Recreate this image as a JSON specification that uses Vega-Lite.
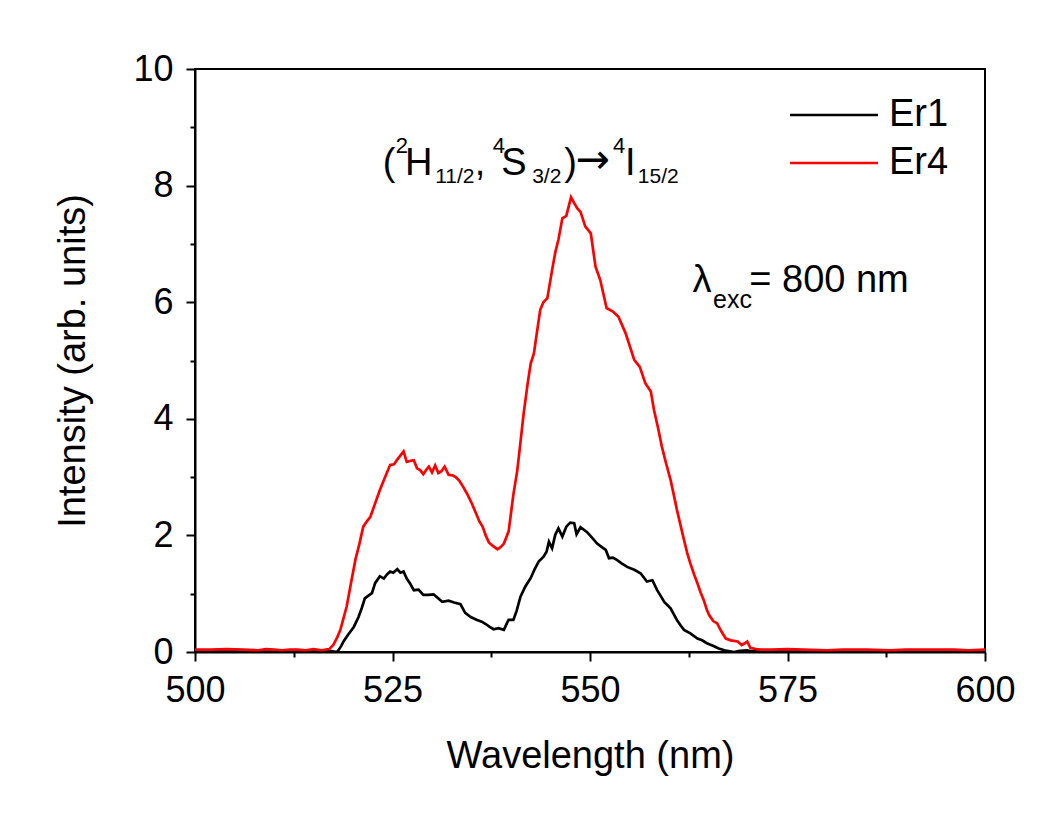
{
  "$schema": "https://vega.github.io/schema/vega-lite/v6.json",
  "width": 790,
  "height": 583,
  "autosize": "none",
  "padding": {"left": 195, "top": 69, "right": 75, "bottom": 168},
  "background": "white",
  "config": {
    "view": {"stroke": "black", "strokeWidth": 2},
    "font": "Liberation Sans",
    "axis": {
      "grid": false,
      "domainColor": "black",
      "domainWidth": 2,
      "tickColor": "black",
      "tickWidth": 2,
      "labelFont": "Liberation Sans",
      "labelFontSize": 36,
      "labelColor": "black",
      "titleFont": "Liberation Sans",
      "titleFontSize": 38,
      "titleFontWeight": "normal",
      "titleColor": "black"
    },
    "legend": {
      "labelFont": "Liberation Sans",
      "labelFontSize": 38,
      "labelColor": "black"
    },
    "text": {"font": "Liberation Sans", "color": "black"}
  },
  "datasets": {
    "spectra": [
      {"wavelength": 500, "intensity": 0.02, "sample": "Er1"},
      {"wavelength": 503, "intensity": 0.01, "sample": "Er1"},
      {"wavelength": 506, "intensity": 0.02, "sample": "Er1"},
      {"wavelength": 509, "intensity": 0.02, "sample": "Er1"},
      {"wavelength": 512, "intensity": 0.02, "sample": "Er1"},
      {"wavelength": 514, "intensity": 0.01, "sample": "Er1"},
      {"wavelength": 516, "intensity": 0.01, "sample": "Er1"},
      {"wavelength": 517, "intensity": 0.02, "sample": "Er1"},
      {"wavelength": 518, "intensity": 0.0, "sample": "Er1"},
      {"wavelength": 518.5, "intensity": 0.1, "sample": "Er1"},
      {"wavelength": 518.8, "intensity": 0.18, "sample": "Er1"},
      {"wavelength": 519.4, "intensity": 0.3, "sample": "Er1"},
      {"wavelength": 520.1, "intensity": 0.43, "sample": "Er1"},
      {"wavelength": 520.7, "intensity": 0.6, "sample": "Er1"},
      {"wavelength": 521.1, "intensity": 0.75, "sample": "Er1"},
      {"wavelength": 521.5, "intensity": 0.92, "sample": "Er1"},
      {"wavelength": 522.0, "intensity": 0.97, "sample": "Er1"},
      {"wavelength": 522.4, "intensity": 1.01, "sample": "Er1"},
      {"wavelength": 522.8, "intensity": 1.18, "sample": "Er1"},
      {"wavelength": 523.4, "intensity": 1.3, "sample": "Er1"},
      {"wavelength": 523.9, "intensity": 1.26, "sample": "Er1"},
      {"wavelength": 524.3, "intensity": 1.33, "sample": "Er1"},
      {"wavelength": 524.7, "intensity": 1.38, "sample": "Er1"},
      {"wavelength": 525.1, "intensity": 1.36, "sample": "Er1"},
      {"wavelength": 525.6, "intensity": 1.42, "sample": "Er1"},
      {"wavelength": 526.0, "intensity": 1.36, "sample": "Er1"},
      {"wavelength": 526.4, "intensity": 1.38, "sample": "Er1"},
      {"wavelength": 526.8, "intensity": 1.26, "sample": "Er1"},
      {"wavelength": 527.2, "intensity": 1.18, "sample": "Er1"},
      {"wavelength": 527.7, "intensity": 1.06, "sample": "Er1"},
      {"wavelength": 528.3, "intensity": 1.07, "sample": "Er1"},
      {"wavelength": 528.9, "intensity": 0.98, "sample": "Er1"},
      {"wavelength": 529.5, "intensity": 0.98, "sample": "Er1"},
      {"wavelength": 530.2, "intensity": 0.99, "sample": "Er1"},
      {"wavelength": 530.7, "intensity": 0.93, "sample": "Er1"},
      {"wavelength": 531.3, "intensity": 0.86, "sample": "Er1"},
      {"wavelength": 532.1, "intensity": 0.88, "sample": "Er1"},
      {"wavelength": 532.8, "intensity": 0.85, "sample": "Er1"},
      {"wavelength": 533.6, "intensity": 0.82, "sample": "Er1"},
      {"wavelength": 534.2, "intensity": 0.67, "sample": "Er1"},
      {"wavelength": 534.9, "intensity": 0.6, "sample": "Er1"},
      {"wavelength": 535.7, "intensity": 0.55, "sample": "Er1"},
      {"wavelength": 536.3, "intensity": 0.52, "sample": "Er1"},
      {"wavelength": 536.8, "intensity": 0.48, "sample": "Er1"},
      {"wavelength": 537.3, "intensity": 0.43, "sample": "Er1"},
      {"wavelength": 537.8, "intensity": 0.39, "sample": "Er1"},
      {"wavelength": 538.4, "intensity": 0.41, "sample": "Er1"},
      {"wavelength": 539.1, "intensity": 0.38, "sample": "Er1"},
      {"wavelength": 539.5, "intensity": 0.5, "sample": "Er1"},
      {"wavelength": 539.7, "intensity": 0.55, "sample": "Er1"},
      {"wavelength": 540.3, "intensity": 0.55, "sample": "Er1"},
      {"wavelength": 540.7, "intensity": 0.7, "sample": "Er1"},
      {"wavelength": 541.2, "intensity": 0.95, "sample": "Er1"},
      {"wavelength": 541.8, "intensity": 1.12, "sample": "Er1"},
      {"wavelength": 542.5, "intensity": 1.27, "sample": "Er1"},
      {"wavelength": 543.0, "intensity": 1.42, "sample": "Er1"},
      {"wavelength": 543.5, "intensity": 1.55, "sample": "Er1"},
      {"wavelength": 544.1, "intensity": 1.63, "sample": "Er1"},
      {"wavelength": 544.5, "intensity": 1.72, "sample": "Er1"},
      {"wavelength": 544.8, "intensity": 1.89, "sample": "Er1"},
      {"wavelength": 545.2, "intensity": 1.78, "sample": "Er1"},
      {"wavelength": 545.6, "intensity": 2.01, "sample": "Er1"},
      {"wavelength": 546.0, "intensity": 2.12, "sample": "Er1"},
      {"wavelength": 546.5, "intensity": 1.98, "sample": "Er1"},
      {"wavelength": 547.0, "intensity": 2.15, "sample": "Er1"},
      {"wavelength": 547.5, "intensity": 2.22, "sample": "Er1"},
      {"wavelength": 548.0, "intensity": 2.21, "sample": "Er1"},
      {"wavelength": 548.3, "intensity": 2.02, "sample": "Er1"},
      {"wavelength": 548.8, "intensity": 2.14, "sample": "Er1"},
      {"wavelength": 549.6, "intensity": 2.06, "sample": "Er1"},
      {"wavelength": 550.2, "intensity": 1.97, "sample": "Er1"},
      {"wavelength": 550.9, "intensity": 1.86, "sample": "Er1"},
      {"wavelength": 551.5, "intensity": 1.8, "sample": "Er1"},
      {"wavelength": 552.0, "intensity": 1.75, "sample": "Er1"},
      {"wavelength": 552.4, "intensity": 1.61, "sample": "Er1"},
      {"wavelength": 552.9, "intensity": 1.62, "sample": "Er1"},
      {"wavelength": 553.4, "intensity": 1.58, "sample": "Er1"},
      {"wavelength": 554.0, "intensity": 1.52, "sample": "Er1"},
      {"wavelength": 554.7, "intensity": 1.46, "sample": "Er1"},
      {"wavelength": 555.6, "intensity": 1.41, "sample": "Er1"},
      {"wavelength": 556.4, "intensity": 1.35, "sample": "Er1"},
      {"wavelength": 557.2, "intensity": 1.21, "sample": "Er1"},
      {"wavelength": 557.9, "intensity": 1.23, "sample": "Er1"},
      {"wavelength": 558.5, "intensity": 1.06, "sample": "Er1"},
      {"wavelength": 559.0, "intensity": 0.95, "sample": "Er1"},
      {"wavelength": 559.4, "intensity": 0.86, "sample": "Er1"},
      {"wavelength": 560.2, "intensity": 0.75, "sample": "Er1"},
      {"wavelength": 560.6, "intensity": 0.65, "sample": "Er1"},
      {"wavelength": 561.0, "intensity": 0.55, "sample": "Er1"},
      {"wavelength": 561.5, "intensity": 0.45, "sample": "Er1"},
      {"wavelength": 561.9, "intensity": 0.38, "sample": "Er1"},
      {"wavelength": 562.7, "intensity": 0.32, "sample": "Er1"},
      {"wavelength": 563.6, "intensity": 0.23, "sample": "Er1"},
      {"wavelength": 564.2, "intensity": 0.2, "sample": "Er1"},
      {"wavelength": 564.8, "intensity": 0.15, "sample": "Er1"},
      {"wavelength": 565.7, "intensity": 0.1, "sample": "Er1"},
      {"wavelength": 566.3, "intensity": 0.06, "sample": "Er1"},
      {"wavelength": 567.0, "intensity": 0.03, "sample": "Er1"},
      {"wavelength": 568.2, "intensity": 0.0, "sample": "Er1"},
      {"wavelength": 569.0, "intensity": 0.02, "sample": "Er1"},
      {"wavelength": 569.9, "intensity": 0.03, "sample": "Er1"},
      {"wavelength": 570.5, "intensity": 0.01, "sample": "Er1"},
      {"wavelength": 572, "intensity": 0.01, "sample": "Er1"},
      {"wavelength": 575, "intensity": 0.02, "sample": "Er1"},
      {"wavelength": 578, "intensity": 0.01, "sample": "Er1"},
      {"wavelength": 581, "intensity": 0.02, "sample": "Er1"},
      {"wavelength": 584, "intensity": 0.01, "sample": "Er1"},
      {"wavelength": 587, "intensity": 0.02, "sample": "Er1"},
      {"wavelength": 590, "intensity": 0.01, "sample": "Er1"},
      {"wavelength": 593, "intensity": 0.02, "sample": "Er1"},
      {"wavelength": 596, "intensity": 0.01, "sample": "Er1"},
      {"wavelength": 600, "intensity": 0.01, "sample": "Er1"},
      {"wavelength": 500, "intensity": 0.04, "sample": "Er4"},
      {"wavelength": 502, "intensity": 0.04, "sample": "Er4"},
      {"wavelength": 504, "intensity": 0.05, "sample": "Er4"},
      {"wavelength": 506, "intensity": 0.04, "sample": "Er4"},
      {"wavelength": 508, "intensity": 0.03, "sample": "Er4"},
      {"wavelength": 509, "intensity": 0.05, "sample": "Er4"},
      {"wavelength": 510, "intensity": 0.04, "sample": "Er4"},
      {"wavelength": 511, "intensity": 0.03, "sample": "Er4"},
      {"wavelength": 512, "intensity": 0.04, "sample": "Er4"},
      {"wavelength": 513, "intensity": 0.04, "sample": "Er4"},
      {"wavelength": 514, "intensity": 0.03, "sample": "Er4"},
      {"wavelength": 515, "intensity": 0.05, "sample": "Er4"},
      {"wavelength": 516, "intensity": 0.03, "sample": "Er4"},
      {"wavelength": 517, "intensity": 0.05, "sample": "Er4"},
      {"wavelength": 517.5, "intensity": 0.12, "sample": "Er4"},
      {"wavelength": 518.0, "intensity": 0.25, "sample": "Er4"},
      {"wavelength": 518.4, "intensity": 0.38, "sample": "Er4"},
      {"wavelength": 518.8, "intensity": 0.58, "sample": "Er4"},
      {"wavelength": 519.2, "intensity": 0.78, "sample": "Er4"},
      {"wavelength": 519.7, "intensity": 1.15, "sample": "Er4"},
      {"wavelength": 520.3, "intensity": 1.58, "sample": "Er4"},
      {"wavelength": 520.8, "intensity": 1.85, "sample": "Er4"},
      {"wavelength": 521.3, "intensity": 2.15, "sample": "Er4"},
      {"wavelength": 521.8, "intensity": 2.25, "sample": "Er4"},
      {"wavelength": 522.2, "intensity": 2.32, "sample": "Er4"},
      {"wavelength": 522.8, "intensity": 2.55, "sample": "Er4"},
      {"wavelength": 523.4, "intensity": 2.78, "sample": "Er4"},
      {"wavelength": 524.0, "intensity": 2.98, "sample": "Er4"},
      {"wavelength": 524.7, "intensity": 3.21, "sample": "Er4"},
      {"wavelength": 525.2, "intensity": 3.22, "sample": "Er4"},
      {"wavelength": 525.6, "intensity": 3.3, "sample": "Er4"},
      {"wavelength": 526.4, "intensity": 3.44, "sample": "Er4"},
      {"wavelength": 526.8, "intensity": 3.26, "sample": "Er4"},
      {"wavelength": 527.3, "intensity": 3.28, "sample": "Er4"},
      {"wavelength": 527.7, "intensity": 3.29, "sample": "Er4"},
      {"wavelength": 528.1, "intensity": 3.15, "sample": "Er4"},
      {"wavelength": 528.5, "intensity": 3.12, "sample": "Er4"},
      {"wavelength": 528.9, "intensity": 3.05, "sample": "Er4"},
      {"wavelength": 529.3, "intensity": 3.13, "sample": "Er4"},
      {"wavelength": 529.6, "intensity": 3.18, "sample": "Er4"},
      {"wavelength": 530.0, "intensity": 3.08, "sample": "Er4"},
      {"wavelength": 530.4, "intensity": 3.2, "sample": "Er4"},
      {"wavelength": 530.8, "intensity": 3.07, "sample": "Er4"},
      {"wavelength": 531.2, "intensity": 3.1, "sample": "Er4"},
      {"wavelength": 531.6, "intensity": 3.18, "sample": "Er4"},
      {"wavelength": 532.1, "intensity": 3.04, "sample": "Er4"},
      {"wavelength": 532.6, "intensity": 3.03, "sample": "Er4"},
      {"wavelength": 533.0, "intensity": 3.0, "sample": "Er4"},
      {"wavelength": 533.5, "intensity": 2.93, "sample": "Er4"},
      {"wavelength": 534.0, "intensity": 2.82, "sample": "Er4"},
      {"wavelength": 534.5, "intensity": 2.7, "sample": "Er4"},
      {"wavelength": 535.0, "intensity": 2.56, "sample": "Er4"},
      {"wavelength": 535.5, "intensity": 2.4, "sample": "Er4"},
      {"wavelength": 536.0, "intensity": 2.24, "sample": "Er4"},
      {"wavelength": 536.4, "intensity": 2.15, "sample": "Er4"},
      {"wavelength": 536.8, "intensity": 2.0, "sample": "Er4"},
      {"wavelength": 537.2, "intensity": 1.88, "sample": "Er4"},
      {"wavelength": 537.7, "intensity": 1.82, "sample": "Er4"},
      {"wavelength": 538.3, "intensity": 1.76, "sample": "Er4"},
      {"wavelength": 538.7, "intensity": 1.8, "sample": "Er4"},
      {"wavelength": 539.1, "intensity": 1.86, "sample": "Er4"},
      {"wavelength": 539.7, "intensity": 2.07, "sample": "Er4"},
      {"wavelength": 540.3, "intensity": 2.7, "sample": "Er4"},
      {"wavelength": 540.8, "intensity": 3.12, "sample": "Er4"},
      {"wavelength": 541.2, "intensity": 3.6, "sample": "Er4"},
      {"wavelength": 541.6, "intensity": 4.09, "sample": "Er4"},
      {"wavelength": 542.1, "intensity": 4.6, "sample": "Er4"},
      {"wavelength": 542.5, "intensity": 4.95, "sample": "Er4"},
      {"wavelength": 542.9, "intensity": 5.12, "sample": "Er4"},
      {"wavelength": 543.3, "intensity": 5.5, "sample": "Er4"},
      {"wavelength": 543.7, "intensity": 5.87, "sample": "Er4"},
      {"wavelength": 544.1, "intensity": 6.0, "sample": "Er4"},
      {"wavelength": 544.6, "intensity": 6.07, "sample": "Er4"},
      {"wavelength": 545.2, "intensity": 6.55, "sample": "Er4"},
      {"wavelength": 545.6, "intensity": 6.85, "sample": "Er4"},
      {"wavelength": 546.0, "intensity": 7.07, "sample": "Er4"},
      {"wavelength": 546.5, "intensity": 7.44, "sample": "Er4"},
      {"wavelength": 547.0, "intensity": 7.48, "sample": "Er4"},
      {"wavelength": 547.6, "intensity": 7.8, "sample": "Er4"},
      {"wavelength": 548.0, "intensity": 7.7, "sample": "Er4"},
      {"wavelength": 548.4, "intensity": 7.61, "sample": "Er4"},
      {"wavelength": 548.8, "intensity": 7.55, "sample": "Er4"},
      {"wavelength": 549.4, "intensity": 7.3, "sample": "Er4"},
      {"wavelength": 550.1, "intensity": 7.18, "sample": "Er4"},
      {"wavelength": 550.7, "intensity": 6.61, "sample": "Er4"},
      {"wavelength": 551.3, "intensity": 6.38, "sample": "Er4"},
      {"wavelength": 552.1, "intensity": 5.9, "sample": "Er4"},
      {"wavelength": 552.9, "intensity": 5.84, "sample": "Er4"},
      {"wavelength": 553.6, "intensity": 5.75, "sample": "Er4"},
      {"wavelength": 554.5, "intensity": 5.47, "sample": "Er4"},
      {"wavelength": 555.6, "intensity": 5.01, "sample": "Er4"},
      {"wavelength": 556.3, "intensity": 4.89, "sample": "Er4"},
      {"wavelength": 557.0, "intensity": 4.61, "sample": "Er4"},
      {"wavelength": 557.7, "intensity": 4.47, "sample": "Er4"},
      {"wavelength": 558.1, "intensity": 4.15, "sample": "Er4"},
      {"wavelength": 558.6, "intensity": 3.85, "sample": "Er4"},
      {"wavelength": 559.1, "intensity": 3.52, "sample": "Er4"},
      {"wavelength": 559.6, "intensity": 3.25, "sample": "Er4"},
      {"wavelength": 560.2, "intensity": 2.95, "sample": "Er4"},
      {"wavelength": 560.6, "intensity": 2.7, "sample": "Er4"},
      {"wavelength": 561.0, "intensity": 2.44, "sample": "Er4"},
      {"wavelength": 561.5, "intensity": 2.15, "sample": "Er4"},
      {"wavelength": 561.9, "intensity": 1.92, "sample": "Er4"},
      {"wavelength": 562.3, "intensity": 1.7, "sample": "Er4"},
      {"wavelength": 562.7, "intensity": 1.52, "sample": "Er4"},
      {"wavelength": 563.2, "intensity": 1.32, "sample": "Er4"},
      {"wavelength": 563.6, "intensity": 1.18, "sample": "Er4"},
      {"wavelength": 564.0, "intensity": 1.02, "sample": "Er4"},
      {"wavelength": 564.4, "intensity": 0.89, "sample": "Er4"},
      {"wavelength": 564.8, "intensity": 0.72, "sample": "Er4"},
      {"wavelength": 565.1, "intensity": 0.63, "sample": "Er4"},
      {"wavelength": 565.6, "intensity": 0.53, "sample": "Er4"},
      {"wavelength": 566.1, "intensity": 0.49, "sample": "Er4"},
      {"wavelength": 566.6, "intensity": 0.36, "sample": "Er4"},
      {"wavelength": 567.2, "intensity": 0.23, "sample": "Er4"},
      {"wavelength": 567.8, "intensity": 0.2, "sample": "Er4"},
      {"wavelength": 568.7, "intensity": 0.18, "sample": "Er4"},
      {"wavelength": 569.2, "intensity": 0.12, "sample": "Er4"},
      {"wavelength": 569.6, "intensity": 0.15, "sample": "Er4"},
      {"wavelength": 569.9, "intensity": 0.18, "sample": "Er4"},
      {"wavelength": 570.3, "intensity": 0.07, "sample": "Er4"},
      {"wavelength": 571.0, "intensity": 0.05, "sample": "Er4"},
      {"wavelength": 571.6, "intensity": 0.04, "sample": "Er4"},
      {"wavelength": 573, "intensity": 0.04, "sample": "Er4"},
      {"wavelength": 575, "intensity": 0.05, "sample": "Er4"},
      {"wavelength": 577, "intensity": 0.04, "sample": "Er4"},
      {"wavelength": 580, "intensity": 0.03, "sample": "Er4"},
      {"wavelength": 582, "intensity": 0.04, "sample": "Er4"},
      {"wavelength": 585, "intensity": 0.04, "sample": "Er4"},
      {"wavelength": 588, "intensity": 0.03, "sample": "Er4"},
      {"wavelength": 590, "intensity": 0.04, "sample": "Er4"},
      {"wavelength": 593, "intensity": 0.04, "sample": "Er4"},
      {"wavelength": 596, "intensity": 0.04, "sample": "Er4"},
      {"wavelength": 598, "intensity": 0.03, "sample": "Er4"},
      {"wavelength": 600, "intensity": 0.04, "sample": "Er4"}
    ],
    "mainText": [
      {"x": 523.78, "y": 8.18, "t": "("},
      {"x": 526.57, "y": 8.18, "t": "H"},
      {"x": 535.4, "y": 8.18, "t": ","},
      {"x": 538.75, "y": 8.18, "t": "S"},
      {"x": 546.73, "y": 8.18, "t": ")"},
      {"x": 554.42, "y": 8.18, "t": "I"},
      {"x": 562.97, "y": 6.18, "t": "λ"},
      {"x": 570.16, "y": 6.18, "t": "= 800 nm"}
    ],
    "arrowText": [
      {"x": 548.2, "y": 8.22, "t": "→"}
    ],
    "supText": [
      {"x": 525.41, "y": 8.56, "t": "2"},
      {"x": 537.68, "y": 8.56, "t": "4"},
      {"x": 552.9, "y": 8.56, "t": "4"}
    ],
    "subText": [
      {"x": 530.4, "y": 8.05, "t": "11/2"},
      {"x": 542.68, "y": 8.05, "t": "3/2"},
      {"x": 556.05, "y": 8.05, "t": "15/2"}
    ],
    "excText": [
      {"x": 565.57, "y": 5.9, "t": "exc"}
    ]
  },
  "layer": [
    {
      "data": {"name": "spectra"},
      "mark": {"type": "line", "strokeWidth": 2.7, "clip": true},
      "encoding": {
        "x": {
          "field": "wavelength",
          "type": "quantitative",
          "scale": {"domain": [500, 600], "nice": false},
          "axis": {
            "title": "Wavelength (nm)",
            "values": [500, 512.5, 525, 537.5, 550, 562.5, 575, 587.5, 600],
            "format": "d",
            "labelExpr": "datum.value % 25 == 0 ? datum.label : ''",
            "labelFlush": false,
            "labelOverlap": false,
            "tickSize": {"condition": {"test": "datum.value % 25 != 0", "value": 5}, "value": 9},
            "labelPadding": 12,
            "titlePadding": 29
          }
        },
        "y": {
          "field": "intensity",
          "type": "quantitative",
          "scale": {"domain": [0, 10], "nice": false},
          "axis": {
            "title": "Intensity (arb. units)",
            "values": [0, 1, 2, 3, 4, 5, 6, 7, 8, 9, 10],
            "format": "d",
            "labelExpr": "datum.value % 2 == 0 ? datum.label : ''",
            "labelOverlap": false,
            "labelFlush": false,
            "tickSize": {"condition": {"test": "datum.value % 2 != 0", "value": 5}, "value": 9},
            "labelPadding": 13,
            "titlePadding": 40
          }
        },
        "color": {
          "field": "sample",
          "type": "nominal",
          "scale": {"domain": ["Er1", "Er4"], "range": ["black", "red"]},
          "legend": {
            "title": null,
            "orient": "none",
            "legendX": 620,
            "legendY": 27,
            "padding": 0,
            "symbolType": "M-4,0H4",
            "symbolSize": 484,
            "symbolStrokeWidth": 2.5,
            "labelOffset": 36,
            "rowPadding": 10
          }
        }
      }
    },
    {
      "data": {"name": "mainText"},
      "mark": {"type": "text", "align": "left", "baseline": "alphabetic", "fontSize": 38},
      "encoding": {
        "x": {"field": "x", "type": "quantitative", "scale": {"domain": [500, 600], "nice": false}, "title": "Wavelength (nm)"},
        "y": {"field": "y", "type": "quantitative", "scale": {"domain": [0, 10], "nice": false}, "title": "Intensity (arb. units)"},
        "text": {"field": "t"}
      }
    },
    {
      "data": {"name": "arrowText"},
      "mark": {"type": "text", "align": "left", "baseline": "alphabetic", "fontSize": 41, "font": "DejaVu Sans"},
      "encoding": {
        "x": {"field": "x", "type": "quantitative", "scale": {"domain": [500, 600], "nice": false}, "title": "Wavelength (nm)"},
        "y": {"field": "y", "type": "quantitative", "scale": {"domain": [0, 10], "nice": false}, "title": "Intensity (arb. units)"},
        "text": {"field": "t"}
      }
    },
    {
      "data": {"name": "supText"},
      "mark": {"type": "text", "align": "left", "baseline": "alphabetic", "fontSize": 22},
      "encoding": {
        "x": {"field": "x", "type": "quantitative", "scale": {"domain": [500, 600], "nice": false}, "title": "Wavelength (nm)"},
        "y": {"field": "y", "type": "quantitative", "scale": {"domain": [0, 10], "nice": false}, "title": "Intensity (arb. units)"},
        "text": {"field": "t"}
      }
    },
    {
      "data": {"name": "subText"},
      "mark": {"type": "text", "align": "left", "baseline": "alphabetic", "fontSize": 21},
      "encoding": {
        "x": {"field": "x", "type": "quantitative", "scale": {"domain": [500, 600], "nice": false}, "title": "Wavelength (nm)"},
        "y": {"field": "y", "type": "quantitative", "scale": {"domain": [0, 10], "nice": false}, "title": "Intensity (arb. units)"},
        "text": {"field": "t"}
      }
    },
    {
      "data": {"name": "excText"},
      "mark": {"type": "text", "align": "left", "baseline": "alphabetic", "fontSize": 25},
      "encoding": {
        "x": {"field": "x", "type": "quantitative", "scale": {"domain": [500, 600], "nice": false}, "title": "Wavelength (nm)"},
        "y": {"field": "y", "type": "quantitative", "scale": {"domain": [0, 10], "nice": false}, "title": "Intensity (arb. units)"},
        "text": {"field": "t"}
      }
    }
  ]
}
